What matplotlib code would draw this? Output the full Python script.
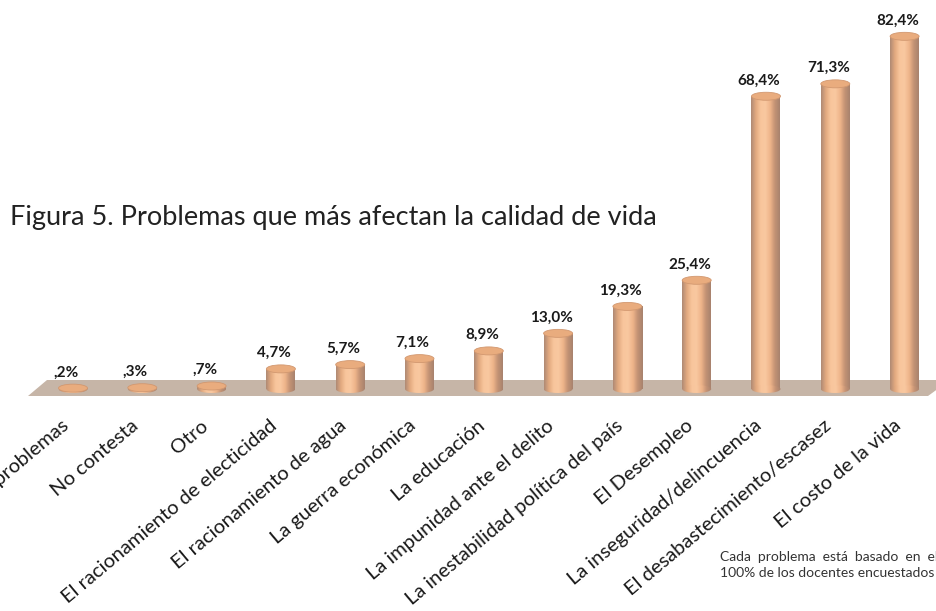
import numpy as np
import matplotlib.pyplot as plt
from matplotlib.colors import LinearSegmentedColormap
from matplotlib.patches import Rectangle, Ellipse, Polygon

categories = ['No hay problemas', 'No contesta', 'Otro', 'El racionamiento de electicidad',
              'El racionamiento de agua', 'La guerra económica', 'La educación',
              'La impunidad ante el delito', 'La inestabilidad política del país',
              'El Desempleo', 'La inseguridad/delincuencia', 'El desabastecimiento/escasez',
              'El costo de la vida']
values = [0.2, 0.3, 0.7, 4.7, 5.7, 7.1, 8.9, 13.0, 19.3, 25.4, 68.4, 71.3, 82.4]
value_labels = [',2%', ',3%', ',7%', '4,7%', '5,7%', '7,1%', '8,9%', '13,0%', '19,3%',
                '25,4%', '68,4%', '71,3%', '82,4%']
title = 'Figura 5. Problemas que más afectan la calidad de vida'
note = ['Cada  problema  está  basado  en  el', '100% de los docentes encuestados']

plt.rcParams['font.family'] = ['Lato', 'DejaVu Sans']

W, H = 937, 611
fig = plt.figure(figsize=(W / 100, H / 100), dpi=100)
ax = fig.add_axes([0, 0, 1, 1])
ax.set_axis_off()

# pixel mapping: bar spacing 69.3px, first bar at 73px, baseline at y=389, 4.28 px per %
sx, x0 = 69.3, 73
sy, y0 = 4.28, 389
def px(x):
    return (x - x0) / sx
def py(y):
    return (y0 - y) / sy

cyl = LinearSegmentedColormap.from_list('cyl', ['#B08A74', '#E3AA80', '#F8C59C', '#F9C8A0', '#EEB48A', '#C39274', '#A8836E'])
grad = np.linspace(0, 1, 64)[None, :]

# floor
floor = Polygon([(px(28), py(396)), (px(47), py(380)), (px(950), py(380)), (px(928), py(396))],
                closed=True, facecolor='#C6B5A7', edgecolor='none', zorder=1)
ax.add_patch(floor)

w = 29 / sx
eh = 8 / sy
for i, v in enumerate(values):
    body = Rectangle((i - w / 2, 0), w, v, facecolor='none', edgecolor='none')
    ax.add_patch(body)
    im = ax.imshow(grad, extent=(i - w / 2, i + w / 2, -eh, v), aspect='auto', cmap=cyl, zorder=3)
    im.set_clip_path(body)
    base = Ellipse((i, 0), w, eh, facecolor='none', edgecolor='none')
    ax.add_patch(base)
    im2 = ax.imshow(grad, extent=(i - w / 2, i + w / 2, -eh, v), aspect='auto', cmap=cyl, zorder=3)
    im2.set_clip_path(base)
    ax.add_patch(Ellipse((i, v), w, eh, facecolor='#E9AC7E', edgecolor='#D29870', lw=0.6, zorder=4))
    ax.text(i - 0.1, v + eh / 2 + 1.1, value_labels[i], ha='center', va='bottom',
            fontsize=11, fontweight='bold', color='#1a1a1a', zorder=5)
    ax.text(i - 0.17, py(417), categories[i], rotation=40, rotation_mode='anchor',
            ha='right', va='top', fontsize=14.5, color='#1a1a1a')

ax.text(px(10), py(218), title, ha='left', va='center', fontsize=19.5, color='#222222')
ax.text(px(720), py(561), note[0], ha='left', va='baseline', fontsize=10, color='#333333')
ax.text(px(720), py(577), note[1], ha='left', va='baseline', fontsize=10, color='#333333')

ax.set_xlim(px(0), px(W))
ax.set_ylim(py(H), py(0))

fig.savefig('out.png', dpi=100)
